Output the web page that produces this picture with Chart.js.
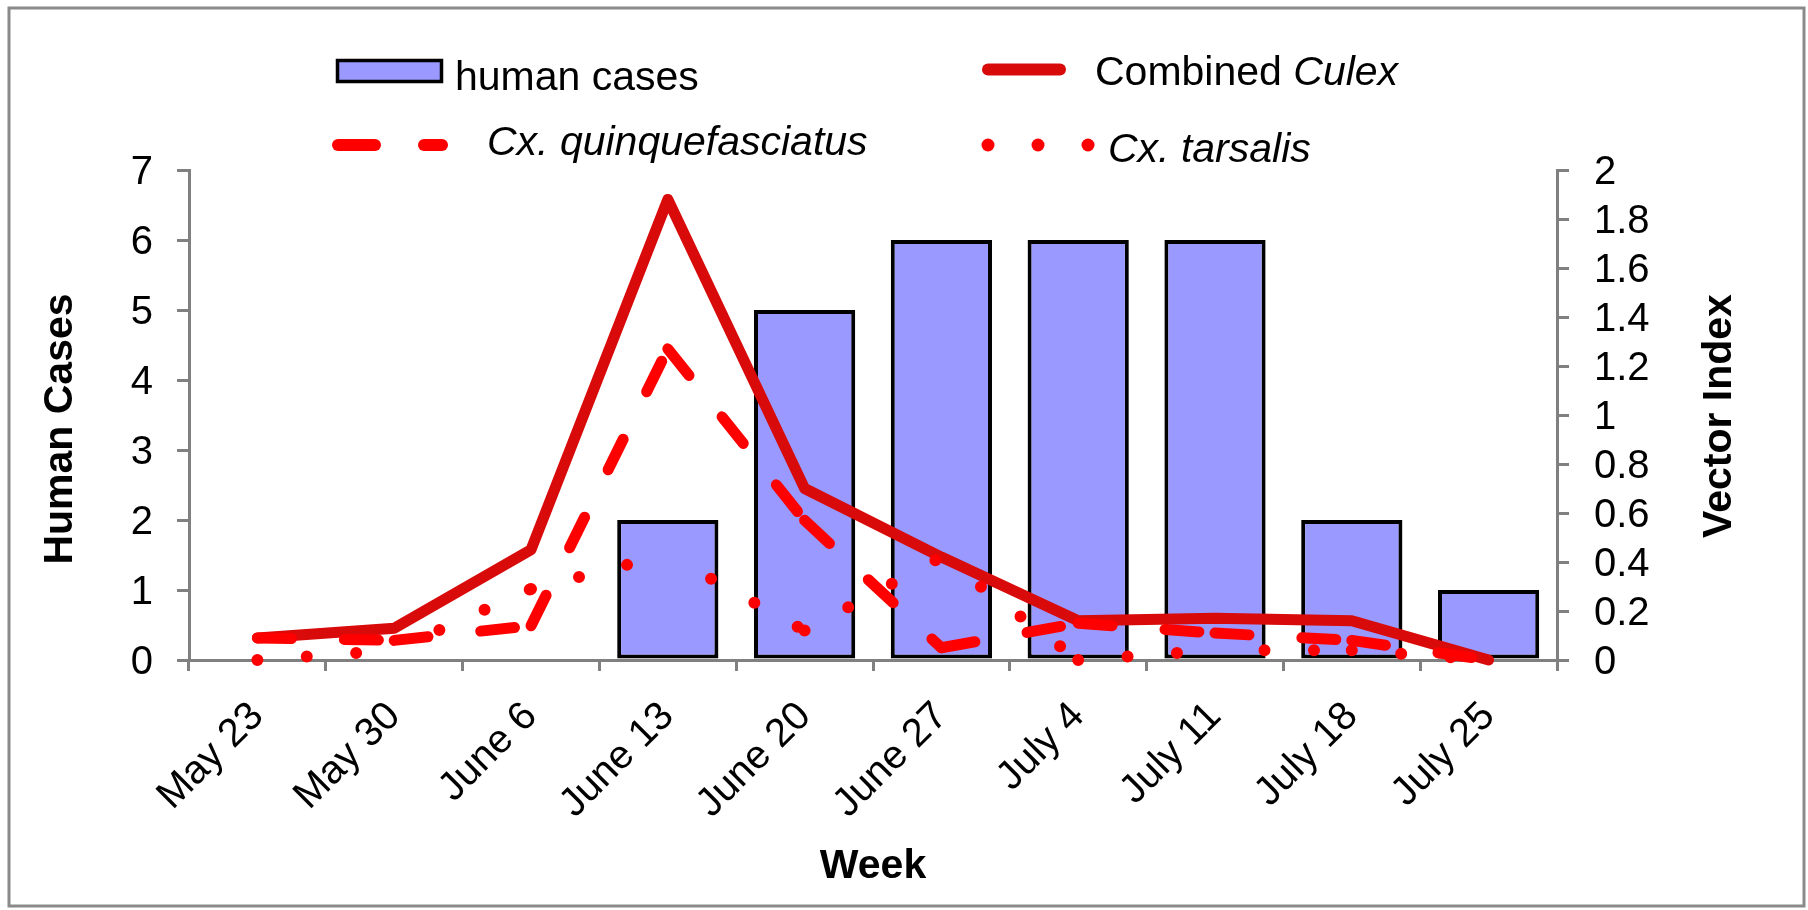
<!DOCTYPE html>
<html><head><meta charset="utf-8">
<script src="https://cdn.jsdelivr.net/npm/chart.js@4/dist/chart.umd.min.js"></script>
<style>html,body{margin:0;padding:0;background:#fff}canvas{display:block}</style>
</head><body>
<canvas id="c" width="1808" height="910"></canvas>
<script>
const weeks = ['May 23','May 30','June 6','June 13','June 20','June 27','July 4','July 11','July 18','July 25'];
const humanCases = [0,0,0,2,5,6,6,6,2,1];
const combinedCulex = [0.09,0.13,0.45,1.88,0.70,0.42,0.16,0.17,0.16,0.00];
const quinquefasciatus = [0.09,0.08,0.14,1.27,0.57,0.05,0.15,0.11,0.08,0.00];
const tarsalis = [0.00,0.04,0.29,0.43,0.12,0.42,0.00,0.04,0.04,0.00];
const leftTickLabels = ['0','1','2','3','4','5','6','7'];
const rightTickLabels = ['0','0.2','0.4','0.6','0.8','1','1.2','1.4','1.6','1.8','2'];

const FONT = "'Liberation Sans', Arial, sans-serif";
const AXIS = '#808080';

const decor = {
  id: 'decor',
  beforeDraw(chart) {
    const ctx = chart.ctx;
    ctx.save();
    ctx.fillStyle = '#fff';
    ctx.fillRect(0, 0, chart.width, chart.height);
    ctx.strokeStyle = '#8a8a8a';
    ctx.lineWidth = 3;
    ctx.strokeRect(9, 8, 1795, 898);
    ctx.restore();
  },
  afterDraw(chart) {
    const ctx = chart.ctx;
    ctx.save();
    ctx.fillStyle = '#000';
    ctx.textBaseline = 'alphabetic';
    ctx.textAlign = 'left';
    // legend: human cases
    ctx.fillStyle = '#9999FF';
    ctx.fillRect(337.5, 60.5, 104, 21);
    ctx.strokeStyle = '#000';
    ctx.lineWidth = 3.5;
    ctx.strokeRect(337.5, 60.5, 104, 21);
    ctx.fillStyle = '#000';
    ctx.font = '41px ' + FONT;
    ctx.fillText('human cases', 455, 90);
    // Combined Culex
    ctx.lineCap = 'round';
    ctx.strokeStyle = '#D80A0A';
    ctx.lineWidth = 12;
    ctx.beginPath(); ctx.moveTo(988, 69.5); ctx.lineTo(1060, 69.5); ctx.stroke();
    ctx.font = '41px ' + FONT;
    ctx.fillText('Combined ', 1095, 85);
    let w = ctx.measureText('Combined ').width;
    ctx.font = 'italic 41px ' + FONT;
    ctx.fillText('Culex', 1095 + w, 85);
    // quinquefasciatus
    ctx.strokeStyle = '#FF0000';
    ctx.lineWidth = 12;
    ctx.beginPath(); ctx.moveTo(338, 145); ctx.lineTo(375, 145); ctx.stroke();
    ctx.beginPath(); ctx.moveTo(424, 145); ctx.lineTo(442, 145); ctx.stroke();
    ctx.fillText('Cx. quinquefasciatus', 487, 155);
    // tarsalis
    ctx.fillStyle = '#FF0000';
    [988, 1038, 1088].forEach(x => { ctx.beginPath(); ctx.arc(x, 145, 6.5, 0, Math.PI * 2); ctx.fill(); });
    ctx.fillStyle = '#000';
    ctx.fillText('Cx. tarsalis', 1108, 162);
    // y titles
    ctx.font = 'bold 41px ' + FONT;
    ctx.textAlign = 'center';
    ctx.save(); ctx.translate(72, 429); ctx.rotate(-Math.PI / 2); ctx.fillText('Human Cases', 0, 0); ctx.restore();
    ctx.save(); ctx.translate(1731, 416); ctx.rotate(-Math.PI / 2); ctx.fillText('Vector Index', 0, 0); ctx.restore();
    ctx.restore();
  }
};

// each segment stroked on its own so the dash pattern restarts at every point
const restartDash = { borderDashOffset: c => (c.p0DataIndex % 2) * 0.0001 };

const lineBase = {
  type: 'line', yAxisID: 'y1', borderWidth: 11, pointRadius: 0, pointHoverRadius: 0,
  tension: 0, fill: false, borderJoinStyle: 'round', borderCapStyle: 'round', clip: false
};

new Chart(document.getElementById('c'), {
  type: 'bar',
  data: {
    labels: weeks,
    datasets: [
      { label: 'human cases', data: humanCases, yAxisID: 'y', backgroundColor: '#9999FF', borderColor: '#000',
        borderWidth: 4, borderSkipped: false, barPercentage: 0.74, categoryPercentage: 1, order: 4 },
      Object.assign({}, lineBase, { label: 'Combined Culex', data: combinedCulex, borderColor: '#D80A0A', order: 3 }),
      Object.assign({}, lineBase, { label: 'Cx. quinquefasciatus', data: quinquefasciatus, borderColor: '#FF0000',
        borderDash: [34, 53], segment: restartDash, order: 2 }),
      Object.assign({}, lineBase, { label: 'Cx. tarsalis', data: tarsalis, borderColor: '#FF0000', borderWidth: 12,
        borderDash: [0, 49.5], segment: restartDash, order: 1 })
    ]
  },
  options: {
    responsive: false, devicePixelRatio: 1, animation: false,
    layout: { padding: { top: 170, left: 0, right: 0, bottom: 0 } },
    plugins: { legend: { display: false }, tooltip: { enabled: false } },
    scales: {
      x: {
        grid: { display: true, drawOnChartArea: false, drawTicks: true, tickLength: 11, color: AXIS, lineWidth: 3 },
        border: { display: true, color: AXIS, width: 3 },
        ticks: { color: '#000', font: { family: FONT, size: 40 }, padding: 22, minRotation: 45, maxRotation: 45, autoSkip: false },
        title: { display: true, text: 'Week', color: '#000', font: { family: FONT, size: 41, weight: 'bold' }, padding: { top: 0, bottom: 19 } },
        afterFit(s) { s.height = 250; }
      },
      y: {
        position: 'left', min: 0, max: 7,
        grid: { display: true, drawOnChartArea: false, drawTicks: true, tickLength: 12, color: AXIS, lineWidth: 3 },
        border: { display: true, color: AXIS, width: 3 },
        ticks: { stepSize: 1, autoSkip: false, color: '#000', font: { family: FONT, size: 40 }, padding: 24, labelOffset: 3,
          callback: (v, i) => leftTickLabels[i] },
        afterFit(s) { s.width = 189; }
      },
      y1: {
        position: 'right', min: 0, max: 2,
        grid: { display: true, drawOnChartArea: false, drawTicks: true, tickLength: 12, color: AXIS, lineWidth: 3 },
        border: { display: true, color: AXIS, width: 3 },
        ticks: { stepSize: 0.2, autoSkip: false, color: '#000', font: { family: FONT, size: 40 }, padding: 25, labelOffset: 3,
          callback: (v, i) => rightTickLabels[i] },
        afterFit(s) { s.width = 251; }
      }
    }
  },
  plugins: [decor]
});
</script>
</body></html>
